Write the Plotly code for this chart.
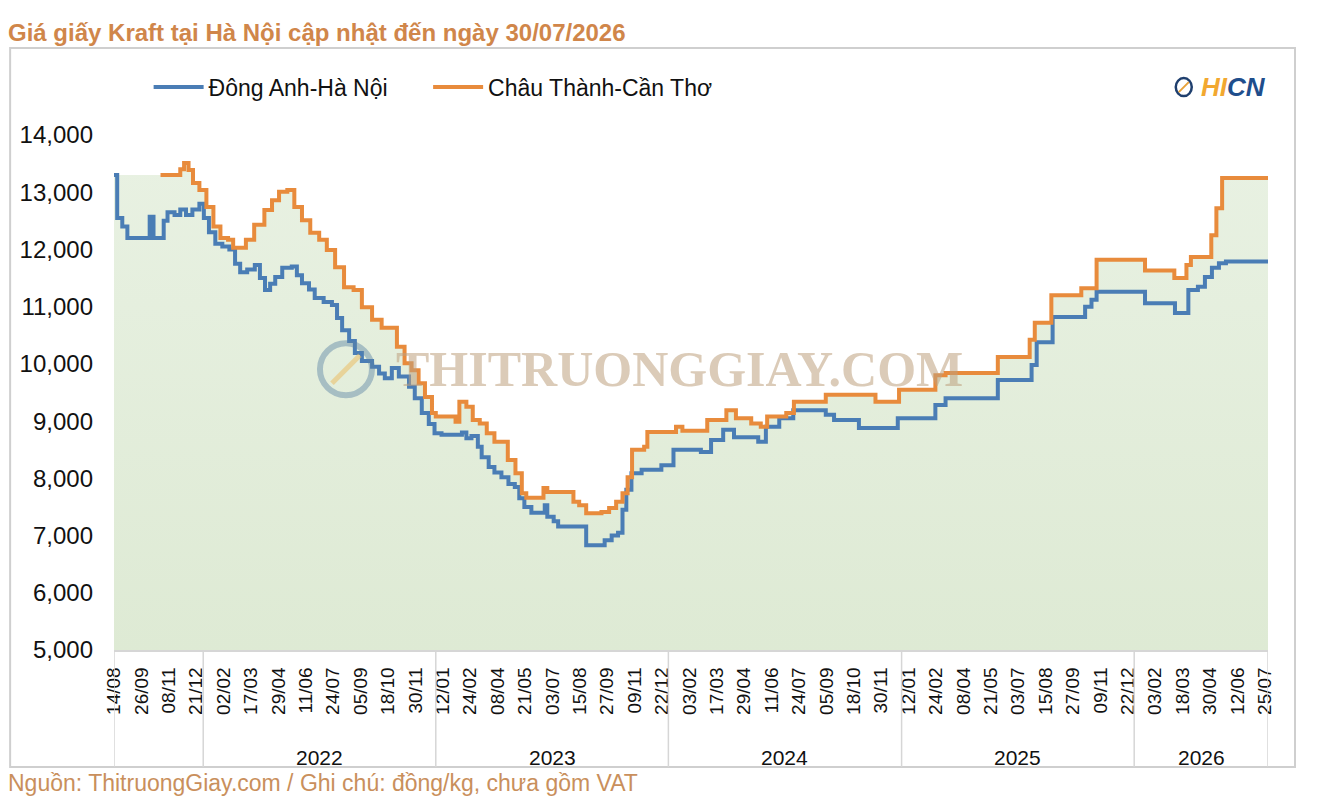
import plotly.graph_objects as go
import pandas as pd

# Giá giấy Kraft - đồng/kg
dong_anh_dates = [
    "2021-08-14", "2021-08-19", "2021-08-27", "2021-09-04", "2021-10-09", "2021-10-15",
    "2021-10-31", "2021-11-06", "2021-11-17", "2021-11-26", "2021-12-05", "2021-12-15",
    "2021-12-26", "2022-01-02", "2022-01-10", "2022-01-20", "2022-01-31", "2022-02-11",
    "2022-02-20", "2022-02-28", "2022-03-11", "2022-03-23", "2022-03-31", "2022-04-08",
    "2022-04-16", "2022-04-24", "2022-05-05", "2022-05-20", "2022-05-28", "2022-06-05",
    "2022-06-16", "2022-06-25", "2022-07-09", "2022-07-22", "2022-07-30", "2022-08-07",
    "2022-08-18", "2022-08-27", "2022-09-07", "2022-09-23", "2022-10-04", "2022-10-13",
    "2022-10-24", "2022-11-04", "2022-11-20", "2022-11-29", "2022-12-10", "2022-12-21",
    "2022-12-30", "2023-01-10", "2023-02-11", "2023-02-18", "2023-02-26", "2023-03-08",
    "2023-03-14", "2023-03-25", "2023-04-03", "2023-04-14", "2023-04-25", "2023-05-05",
    "2023-05-12", "2023-05-20", "2023-05-31", "2023-06-21", "2023-06-25", "2023-07-05",
    "2023-07-12", "2023-08-25", "2023-09-23", "2023-10-04", "2023-10-14", "2023-10-21",
    "2023-10-27", "2023-11-04", "2023-11-20", "2023-12-21", "2024-01-09", "2024-02-21",
    "2024-03-08", "2024-03-27", "2024-04-13", "2024-05-21", "2024-06-02", "2024-06-23",
    "2024-07-15", "2024-09-04", "2024-09-17", "2024-10-26", "2024-12-26", "2025-02-23",
    "2025-03-11", "2025-06-01", "2025-07-24", "2025-08-01", "2025-08-26", "2025-10-16",
    "2025-10-26", "2025-11-03", "2026-01-18", "2026-03-06", "2026-03-27", "2026-04-11",
    "2026-04-22", "2026-05-03", "2026-05-14", "2026-05-25", "2026-07-30",
]
dong_anh = [
    13300, 12550, 12400, 12200, 12570, 12200,
    12500, 12650, 12600, 12700, 12600, 12700,
    12800, 12550, 12300, 12100, 12050, 12000,
    11750, 11600, 11650, 11730, 11500, 11290,
    11400, 11520, 11680, 11700, 11550, 11410,
    11300, 11150, 11080, 11030, 10800, 10590,
    10400, 10190, 10050, 9950, 9830, 9750,
    9930, 9780, 9600, 9400, 9140, 8950,
    8790, 8760, 8800, 8700, 8740, 8550,
    8370, 8200, 8100, 8020, 7900, 7850,
    7650, 7500, 7400, 7530, 7330, 7250,
    7160, 6830, 6920, 7000, 7050, 7450,
    7800, 8090, 8150, 8230, 8500, 8460,
    8670, 8850, 8720, 8640, 8900, 9050,
    9190, 9110, 9020, 8880, 9050, 9280,
    9400, 9720, 9980, 10380, 10820, 11000,
    11120, 11260, 11060, 10890, 11290, 11350,
    11520, 11680, 11760, 11790, 11790,
]

chau_thanh_dates = [
    "2021-10-26", "2021-11-26", "2021-12-02", "2021-12-09", "2021-12-16", "2021-12-26",
    "2022-01-06", "2022-01-17", "2022-01-28", "2022-02-09", "2022-02-17", "2022-03-09",
    "2022-03-22", "2022-04-07", "2022-04-19", "2022-04-30", "2022-05-13", "2022-05-24",
    "2022-06-05", "2022-06-18", "2022-07-02", "2022-07-14", "2022-07-27", "2022-08-10",
    "2022-08-25", "2022-09-07", "2022-09-23", "2022-10-08", "2022-11-01", "2022-11-13",
    "2022-11-24", "2022-12-05", "2022-12-15", "2022-12-26", "2023-01-01", "2023-02-01",
    "2023-02-07", "2023-02-18", "2023-02-28", "2023-03-11", "2023-03-22", "2023-04-03",
    "2023-04-24", "2023-05-06", "2023-05-16", "2023-05-23", "2023-06-19", "2023-06-25",
    "2023-08-05", "2023-08-14", "2023-08-25", "2023-09-18", "2023-09-30", "2023-10-11",
    "2023-10-21", "2023-10-29", "2023-11-05", "2023-11-24", "2023-11-29", "2024-01-13",
    "2024-01-23", "2024-03-02", "2024-04-01", "2024-04-16", "2024-05-10", "2024-05-25",
    "2024-06-04", "2024-07-04", "2024-07-16", "2024-09-04", "2024-11-21", "2024-12-28",
    "2025-02-23", "2025-03-11", "2025-06-01", "2025-07-21", "2025-07-29", "2025-08-24",
    "2025-10-10", "2025-11-03", "2026-01-18", "2026-03-05", "2026-03-24", "2026-03-31",
    "2026-05-02", "2026-05-10", "2026-05-19", "2026-07-30",
]
chau_thanh = [
    13300, 13400, 13510, 13390, 13160, 13040,
    12740, 12400, 12200, 12170, 12030, 12170,
    12430, 12690, 12860, 13010, 13040, 12740,
    12510, 12290, 12170, 11990, 11690, 11340,
    11290, 10990, 10770, 10630, 10300, 10010,
    9890, 9660, 9420, 9140, 9080, 8990,
    9340, 9250, 9020, 8960, 8790, 8640,
    8320, 8090, 7740, 7660, 7830, 7760,
    7590, 7530, 7390, 7410, 7480, 7590,
    7740, 8020, 8500, 8550, 8810, 8900,
    8830, 9020, 9190, 9050, 8960, 8900,
    9080, 9140, 9340, 9460, 9340, 9550,
    9800, 9840, 10120, 10420, 10720, 11200,
    11320, 11820, 11630, 11500, 11730, 11870,
    12250, 12720, 13250, 13250,
]

years = ["2022", "2023", "2024", "2025", "2026"]
year_starts = ["2022-01-01", "2023-01-01", "2024-01-01", "2025-01-01", "2026-01-01"]

x_start = "2021-08-14"
x_end = "2026-07-30"

blue = "#4A7DB5"
orange = "#E88B3C"
brown = "#D0864A"

# nhãn ngày: cứ 43 ngày một nhãn
tick_dates = pd.date_range(x_start, periods=43, freq="43D")
tick_text = [d.strftime("%d/%m") for d in tick_dates]

fig = go.Figure()

# vùng nền xanh dưới đường Châu Thành
fig.add_trace(go.Scatter(
    x=[x_start] + chau_thanh_dates,
    y=[chau_thanh[0]] + chau_thanh,
    mode="lines", line=dict(width=0, shape="hv"),
    fill="tozeroy",
    fillgradient=dict(type="vertical", colorscale=[[0, "#D8E6CC"], [1, "#E8F1E2"]]),
    showlegend=False, hoverinfo="skip",
))

fig.add_trace(go.Scatter(
    x=dong_anh_dates, y=dong_anh, mode="lines", name="Đông Anh-Hà Nội",
    line=dict(color=blue, width=4, shape="hv"), legend="legend",
))
fig.add_trace(go.Scatter(
    x=chau_thanh_dates, y=chau_thanh, mode="lines", name="Châu Thành-Cần Thơ",
    line=dict(color=orange, width=4, shape="hv"), legend="legend2",
))

shapes = []
# khung ngoài
shapes.append(dict(type="rect", xref="paper", yref="paper",
                   x0=-0.09, x1=1.0234, y0=-0.227, y1=1.169,
                   line=dict(color="#CFCFCF", width=2), layer="below"))
# vạch phân cách năm
for d in [x_start] + year_starts + [x_end]:
    shapes.append(dict(type="line", xref="x", yref="paper", x0=d, x1=d, y0=0, y1=-0.227,
                       line=dict(color="#D6D6D6", width=1.5)))

# watermark logo
shapes.append(dict(type="circle", xref="paper", yref="paper",
                   xsizemode="pixel", ysizemode="pixel",
                   xanchor=0.201, yanchor=0.545, x0=-26, x1=26, y0=-26, y1=26,
                   line=dict(color="rgba(90,130,165,0.45)", width=6), layer="above"))
shapes.append(dict(type="line", xref="paper", yref="paper",
                   xsizemode="pixel", ysizemode="pixel",
                   xanchor=0.201, yanchor=0.545, x0=-14, x1=14, y0=-14, y1=14,
                   line=dict(color="rgba(235,190,100,0.55)", width=5), layer="above"))
# logo HICN
shapes.append(dict(type="circle", xref="paper", yref="paper",
                   xsizemode="pixel", ysizemode="pixel",
                   xanchor=0.927, yanchor=1.093, x0=-8, x1=8, y0=-9, y1=9,
                   line=dict(color="#1F3F6E", width=2.5)))
shapes.append(dict(type="line", xref="paper", yref="paper",
                   xsizemode="pixel", ysizemode="pixel",
                   xanchor=0.927, yanchor=1.093, x0=-5, x1=5, y0=-5, y1=5,
                   line=dict(color="#E8A23A", width=2)))

annotations = []
for y, d in zip(years, year_starts):
    mid = pd.Timestamp(d) + (min(pd.Timestamp(d) + pd.DateOffset(years=1), pd.Timestamp(x_end)) - pd.Timestamp(d)) / 2
    annotations.append(dict(x=mid, y=-0.208, xref="x", yref="paper", text=y, showarrow=False,
                            font=dict(size=21, color="#111111"), yanchor="middle"))

annotations.append(dict(
    x=-0.094, y=-0.258, xref="paper", yref="paper", xanchor="left", yanchor="middle",
    text="Nguồn: ThitruongGiay.com / Ghi chú: đồng/kg, chưa gồm VAT", showarrow=False,
    font=dict(size=23, color="#C98F5C", family="Liberation Sans, Arial"),
))
annotations.append(dict(
    x=0.49, y=0.545, xref="paper", yref="paper", xanchor="center", yanchor="middle",
    text="<b>THITRUONGGIAY.COM</b>", showarrow=False,
    font=dict(size=50, color="rgba(190,160,125,0.55)", family="Liberation Serif, DejaVu Serif"),
))
annotations.append(dict(
    x=0.94, y=1.093, xref="paper", yref="paper", xanchor="left", yanchor="middle",
    text="<b><i><span style='color:#F2A830'>HI</span><span style='color:#1F4E8C'>CN</span></i></b>",
    showarrow=False, font=dict(size=26, family="Liberation Sans, Arial"),
))

legend_style = dict(
    orientation="h", y=1.093, xanchor="left", yanchor="middle",
    font=dict(size=23, color="#111111"), bgcolor="rgba(0,0,0,0)", itemwidth=50,
)

# trang có lề 8px quanh body nên hình nhỏ hơn 8px mỗi chiều
fig.update_layout(
    width=1319, height=797,
    paper_bgcolor="white", plot_bgcolor="white",
    margin=dict(l=104, r=59, t=127, b=155),
    font=dict(family="Liberation Sans, Arial", color="#111111"),
    title=dict(
        text="<b>Giá giấy Kraft tại Hà Nội cập nhật đến ngày 30/07/2026</b>",
        x=0.0, y=0.969, xref="container", yref="container", xanchor="left", yanchor="middle",
        font=dict(size=24, color=brown, family="Liberation Sans, Arial"),
    ),
    legend=dict(x=0.03, **legend_style),
    legend2=dict(x=0.2722, **legend_style),
    xaxis=dict(
        type="date", range=[x_start, x_end],
        tickvals=tick_dates, ticktext=tick_text, tickangle=-90,
        tickfont=dict(size=19, color="#111111"),
        showgrid=False, zeroline=False, ticks="",
        showline=True, linecolor="#D6D6D6", linewidth=1.5,
        ticklabelstandoff=8,
    ),
    yaxis=dict(
        range=[5000, 14000], dtick=1000, tickformat=",",
        tickfont=dict(size=24, color="#111111"),
        showgrid=False, zeroline=False, ticks="", ticklabelstandoff=20,
    ),
    shapes=shapes,
    annotations=annotations,
    hovermode=False,
)

fig.write_html("out.html")
